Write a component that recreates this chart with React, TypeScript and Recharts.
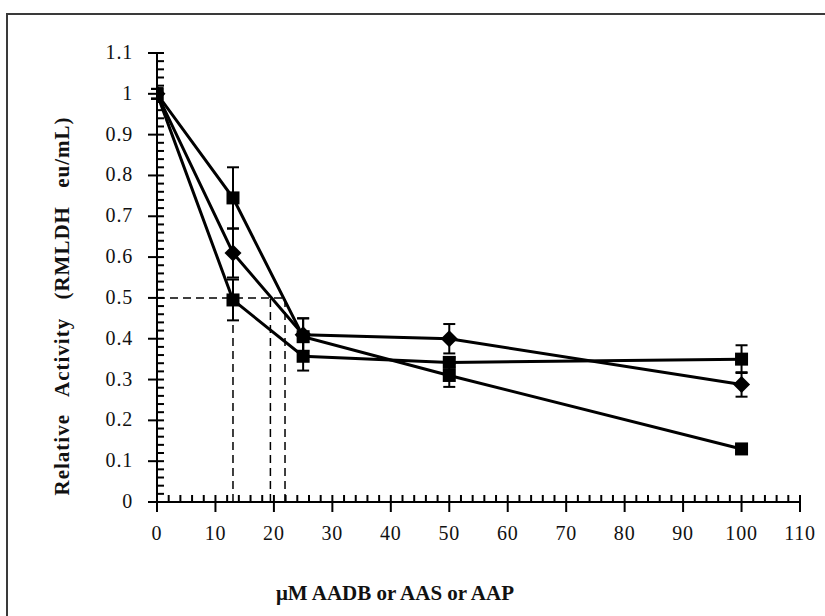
import React from 'react';
import { ComposedChart, Line, XAxis, YAxis, ErrorBar, ReferenceLine } from 'recharts';

const concentrations = [0, 13, 25, 50, 100];
const seriesA = [1.0, 0.61, 0.41, 0.4, 0.288];
const seriesAErr = [0.012, 0.06, 0.04, 0.036, 0.03];
const seriesB = [1.0, 0.745, 0.405, 0.31, 0.13];
const seriesBErr = [0.012, 0.075, 0.045, 0.028, 0.01];
const seriesC = [1.0, 0.495, 0.357, 0.342, 0.35];
const seriesCErr = [0.012, 0.05, 0.035, 0.012, 0.034];

const xMajorTicks = [0, 10, 20, 30, 40, 50, 60, 70, 80, 90, 100, 110];
const yMajorTicks = [0, 0.1, 0.2, 0.3, 0.4, 0.5, 0.6, 0.7, 0.8, 0.9, 1, 1.1];
const yTickLabels = ['0', '0.1', '0.2', '0.3', '0.4', '0.5', '0.6', '0.7', '0.8', '0.9', '1', '1.1'];

const halfLevel = 0.5;
const ic50Marks = [13, 19.4, 21.9];

const xAllTicks: number[] = [];
for (let i = 0; i <= 110; i += 2) xAllTicks.push(i);
const yAllTicks: number[] = [];
for (let i = 0; i <= 110; i += 2) yAllTicks.push(i / 100);

const data = concentrations.map((c, i) => ({
  x: c,
  a: seriesA[i],
  aErr: seriesAErr[i],
  b: seriesB[i],
  bErr: seriesBErr[i],
  c: seriesC[i],
  cErr: seriesCErr[i],
}));

const FONT = '"Liberation Serif", "Times New Roman", serif';

const XTick = (props: any) => {
  const { x, y, payload } = props;
  const v = payload.value;
  const major = xMajorTicks.includes(v);
  return (
    <g>
      <line x1={x} x2={x} y1={y - 7} y2={major ? y + 10 : y} stroke="#000" strokeWidth={2} />
      {major && (
        <text x={x} y={y + 38} textAnchor="middle" fontSize={20} letterSpacing={0.8} fontFamily={FONT} fill="#111">
          {v}
        </text>
      )}
    </g>
  );
};

const YTick = (props: any) => {
  const { x, y, payload } = props;
  const v = payload.value;
  const idx = yMajorTicks.findIndex((t) => Math.abs(t - v) < 1e-6);
  const major = idx >= 0;
  return (
    <g>
      <line x1={major ? x - 9 : x} x2={x + 7} y1={y} y2={y} stroke="#000" strokeWidth={2} />
      {major && (
        <text x={x - 24} y={y + 6} textAnchor="end" fontSize={20} letterSpacing={0.8} fontFamily={FONT} fill="#111">
          {yTickLabels[idx]}
        </text>
      )}
    </g>
  );
};

const SquareDot = (props: any) => {
  const { cx, cy, index } = props;
  return <rect key={`s-${index}`} x={cx - 6.5} y={cy - 6.5} width={13} height={13} fill="#000" />;
};

const DiamondDot = (props: any) => {
  const { cx, cy, index } = props;
  return (
    <polygon
      key={`d-${index}`}
      points={`${cx},${cy - 8.5} ${cx + 8.5},${cy} ${cx},${cy + 8.5} ${cx - 8.5},${cy}`}
      fill="#000"
    />
  );
};

export default function App() {
  return (
    <div style={{ position: 'absolute', left: 0, top: 0, width: 825, height: 616, overflow: 'hidden', background: '#fff' }}>
      <div
        style={{
          position: 'absolute',
          left: 6,
          top: 13,
          width: 900,
          height: 700,
          border: '2px solid #3a3a3a',
        }}
      />
      <div style={{ position: 'absolute', left: 0, top: 0 }}>
        <ComposedChart width={825} height={616} data={data} margin={{ top: 53, right: 25, left: 57, bottom: 0 }}>
          <XAxis
            dataKey="x"
            type="number"
            domain={[0, 110]}
            ticks={xAllTicks}
            interval={0}
            tick={<XTick />}
            tickLine={false}
            tickSize={0}
            tickMargin={0}
            height={114}
            axisLine={{ stroke: '#000', strokeWidth: 2 }}
            allowDataOverflow
          />
          <YAxis
            type="number"
            domain={[0, 1.1]}
            ticks={yAllTicks}
            interval={0}
            tick={<YTick />}
            tickLine={false}
            tickSize={0}
            tickMargin={0}
            width={100}
            axisLine={{ stroke: '#000', strokeWidth: 2 }}
            allowDataOverflow
          />
          <ReferenceLine
            segment={[{ x: 0, y: halfLevel }, { x: ic50Marks[2], y: halfLevel }]}
            stroke="#000"
            strokeWidth={1.5}
            strokeDasharray="8 5"
            ifOverflow="visible"
          />
          {ic50Marks.map((m) => (
            <ReferenceLine
              key={m}
              segment={[{ x: m, y: 0 }, { x: m, y: halfLevel }]}
              stroke="#000"
              strokeWidth={1.5}
              strokeDasharray="8 5"
              ifOverflow="visible"
            />
          ))}
          <Line dataKey="a" stroke="#000" strokeWidth={3} dot={<DiamondDot />} isAnimationActive={false}>
            <ErrorBar dataKey="aErr" direction="y" width={6} stroke="#000" strokeWidth={2} isAnimationActive={false} />
          </Line>
          <Line dataKey="b" stroke="#000" strokeWidth={3} dot={<SquareDot />} isAnimationActive={false}>
            <ErrorBar dataKey="bErr" direction="y" width={6} stroke="#000" strokeWidth={2} isAnimationActive={false} />
          </Line>
          <Line dataKey="c" stroke="#000" strokeWidth={3} dot={<SquareDot />} isAnimationActive={false}>
            <ErrorBar dataKey="cErr" direction="y" width={6} stroke="#000" strokeWidth={2} isAnimationActive={false} />
          </Line>
          <text
            x={395}
            y={600}
            textAnchor="middle"
            fontSize={21}
            fontWeight="bold"
            fontFamily={FONT}
            fill="#111"
          >
            μM AADB or AAS or AAP
          </text>
          <text
            x={62}
            y={306}
            transform="rotate(-90 62 306)"
            textAnchor="middle"
            dominantBaseline="central"
            fontSize={21}
            fontWeight="bold"
            fontFamily={FONT}
            letterSpacing={1}
            wordSpacing={12}
            fill="#111"
          >
            Relative Activity (RMLDH eu/mL)
          </text>
        </ComposedChart>
      </div>
    </div>
  );
}
